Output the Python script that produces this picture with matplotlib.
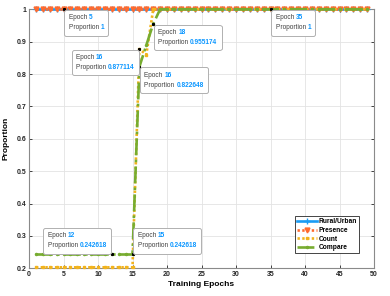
import matplotlib
matplotlib.use("Agg")
import matplotlib.pyplot as plt
from matplotlib.offsetbox import AnnotationBbox, HPacker, TextArea, VPacker

plt.rcParams["font.family"] = ["Liberation Sans", "DejaVu Sans"]

epochs = list(range(1, 50))
rural_urban = [1.0] * 49
presence = [1.0] * 49
count = [0.203] * 15 + [0.877114, 0.86] + [1.0] * 32
compare = [0.242618] * 15 + [0.822648, 0.889, 0.955174] + [1.0] * 31

# datatips: (epoch, value, which corner of the box touches the point)
tips = [
    (5, 1, (0, 1)),
    (18, 0.955174, (0, 1)),
    (16, 0.877114, (1, 1)),
    (16, 0.822648, (0, 1)),
    (35, 1, (0, 1)),
    (12, 0.242618, (1, 0)),
    (15, 0.242618, (0, 0)),
]

BLUE = "#1a9cf5"
ORANGE = "#ff6a2e"
YELLOW = "#f2b31c"
GREEN = "#77ac30"
TIP_BLUE = "#0a96ff"
TIP_FS = 4.7
PAD = 3.1  # frame padding in points

fig = plt.figure(figsize=(3.9, 2.96), dpi=100)
ax = fig.add_axes([0.0744, 0.0936, 0.8846, 0.875])

ax.plot(epochs, rural_urban, color=BLUE, lw=1.9, marker="+", ms=4, mew=1.0,
        label="Rural/Urban", clip_on=False, zorder=3)
ax.plot(epochs, presence, color=ORANGE, lw=1.9, ls=(0, (0.9, 0.9)), marker="v", ms=3.5,
        label="Presence", clip_on=False, zorder=3)
ax.plot(epochs, count, color=YELLOW, lw=1.9, ls=(0, (0.9, 0.9)), marker="s", ms=2,
        label="Count", clip_on=False, zorder=3)
ax.plot(epochs, compare, color=GREEN, lw=1.9, ls="-.", marker=".", ms=3,
        label="Compare", clip_on=False, zorder=3)

for ep, val, align in tips:
    ax.plot([ep], [val], marker="s", ms=1.2, color="black", zorder=5, clip_on=False)
    row1 = HPacker(children=[
        TextArea("Epoch ", textprops=dict(color="#404040", fontsize=TIP_FS)),
        TextArea(f"{ep}", textprops=dict(color=TIP_BLUE, fontsize=TIP_FS, fontweight="bold")),
    ], pad=0, sep=0)
    row2 = HPacker(children=[
        TextArea("Proportion ", textprops=dict(color="#404040", fontsize=TIP_FS)),
        TextArea(f"{val:g}", textprops=dict(color=TIP_BLUE, fontsize=TIP_FS, fontweight="bold")),
    ], pad=0, sep=0)
    box = VPacker(children=[row1, row2], pad=0, sep=2.2, align="left")
    dx = PAD + 0.5 if align[0] == 0 else -(PAD + 0.5)
    dy = -(PAD + 0.5) if align[1] == 1 else PAD + 0.5
    ab = AnnotationBbox(box, (ep, val), xybox=(dx, dy), boxcoords="offset points",
                        box_alignment=align,
                        bboxprops=dict(boxstyle=f"round,pad={PAD / 10},rounding_size=0.15",
                                       fc="white", ec="#b0b0b0", lw=0.7))
    ab.set_zorder(6)
    ax.add_artist(ab)

ax.set_xlim(0, 50)
ax.set_ylim(0.2, 1)
ax.set_xticks(range(0, 51, 5))
ax.set_yticks([0.2, 0.3, 0.4, 0.5, 0.6, 0.7, 0.8, 0.9, 1.0])
ax.set_yticklabels(["0.2", "0.3", "0.4", "0.5", "0.6", "0.7", "0.8", "0.9", "1"])
ax.grid(True, color="#e3e3e3", lw=0.6)
ax.set_axisbelow(True)
ax.tick_params(direction="in", top=True, right=True, length=2.5, width=0.6,
               labelsize=5, colors="#262626", pad=2)
for lbl in ax.get_xticklabels() + ax.get_yticklabels():
    lbl.set_fontweight("bold")
for sp in ax.spines.values():
    sp.set_color("#8a8a8a")
    sp.set_linewidth(0.8)

ax.set_xlabel("Training Epochs", fontsize=6, fontweight="bold", labelpad=2)
ax.set_ylabel("Proportion", fontsize=6, fontweight="bold", labelpad=5)

leg = ax.legend(loc="lower left", bbox_to_anchor=(0.772, 0.058),
                prop=dict(weight="bold", size=4.8), fancybox=False, framealpha=1,
                edgecolor="#262626", borderpad=0.3, labelspacing=0.25,
                handlelength=2.9, handletextpad=0.3, borderaxespad=0)
leg.get_frame().set_linewidth(0.6)

fig.savefig("out.png", dpi=100)
